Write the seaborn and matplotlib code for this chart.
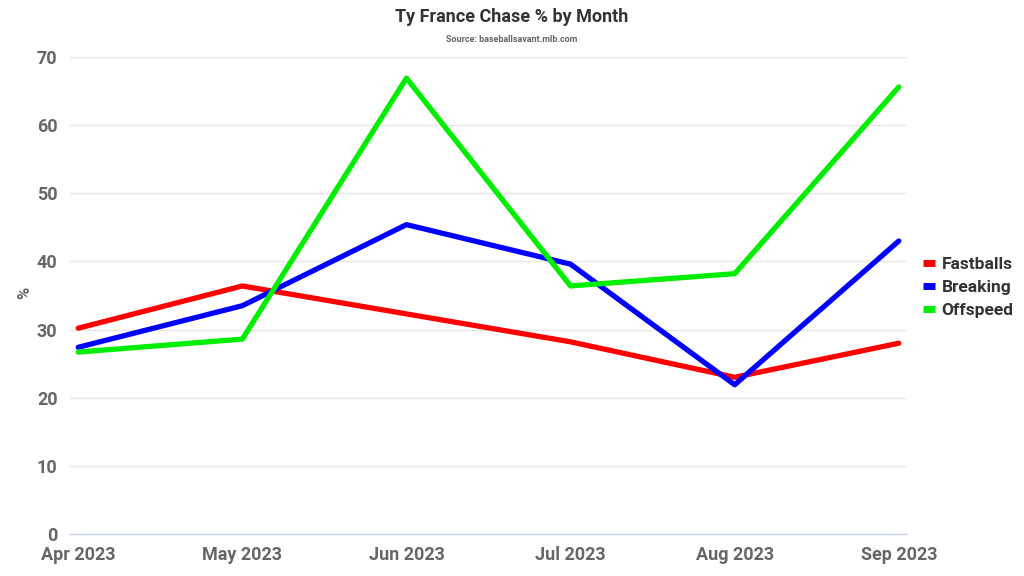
import matplotlib
matplotlib.use("Agg")
import matplotlib.pyplot as plt
import seaborn as sns
import pandas as pd

months = ["Apr 2023", "May 2023", "Jun 2023", "Jul 2023", "Aug 2023", "Sep 2023"]
fastballs = [30.2, 36.4, 32.3, 28.2, 23.0, 28.0]
breaking = [27.4, 33.5, 45.4, 39.6, 21.9, 43.0]
offspeed = [26.7, 28.6, 66.9, 36.4, 38.2, 65.6]
series_names = ["Fastballs", "Breaking", "Offspeed"]
colors = ["#ff0000", "#0000ff", "#00ee00"]

rows = []
for name, vals in zip(series_names, [fastballs, breaking, offspeed]):
    for i, (m, v) in enumerate(zip(months, vals)):
        rows.append({"month": m, "idx": i, "value": v, "series": name})
df = pd.DataFrame(rows)

sns.set_theme(style="white")
plt.rcParams["font.family"] = ["Roboto", "DejaVu Sans"]

fig = plt.figure(figsize=(10.24, 5.76), dpi=100)
ax = fig.add_axes([70 / 1024, 1 - 534 / 576, (907 - 70) / 1024, (534 - 57) / 576])

sns.lineplot(data=df, x="idx", y="value", hue="series", hue_order=series_names,
             palette=colors, linewidth=3.8, ax=ax, sort=False)

ax.set_xlim(-0.05, 5.05)
ax.set_ylim(0, 70)
ax.set_yticks(range(0, 71, 10))
ax.set_xticks(range(len(months)))
ax.set_xticklabels(months)
ax.yaxis.grid(True, color="#e6e6e6", linewidth=1)
ax.set_axisbelow(True)
for s in ["top", "right", "left"]:
    ax.spines[s].set_visible(False)
ax.spines["bottom"].set_color("#ccd6eb")
ax.spines["bottom"].set_linewidth(1)
ax.tick_params(axis="x", colors="#ccd6eb", length=8, width=1, direction="out", pad=1,
               labelcolor="#666666", labelsize=13)
ax.tick_params(axis="y", length=0, pad=9, labelcolor="#666666", labelsize=13)
for lbl in ax.get_xticklabels() + ax.get_yticklabels():
    lbl.set_fontweight("bold")
ax.set_xlabel("")
ax.set_ylabel("")
fig.text(25 / 1024, 1 - 293 / 576, "%", rotation=90, ha="center", va="center",
         color="#666666", fontsize=12, fontweight="bold")

leg = ax.legend(loc="center left", bbox_to_anchor=(1.0, 0.516), frameon=False,
                fontsize=12.5, handlelength=0.7, handletextpad=0.4, labelspacing=0.45,
                borderaxespad=0.5)
for t in leg.get_texts():
    t.set_fontweight("bold")
    t.set_color("#333333")
for h in leg.legend_handles:
    h.set_linewidth(5)
    h.set_solid_capstyle("butt")

fig.text(0.5, 1 - 17 / 576, "Ty France Chase % by Month", ha="center", va="center",
         fontsize=13, fontweight="bold", color="#333333")
fig.text(0.5, 1 - 40 / 576, "Source: baseballsavant.mlb.com", ha="center", va="center",
         fontsize=6.5, fontweight="bold", color="#666666")

fig.savefig("out.png", dpi=100, facecolor="white")
